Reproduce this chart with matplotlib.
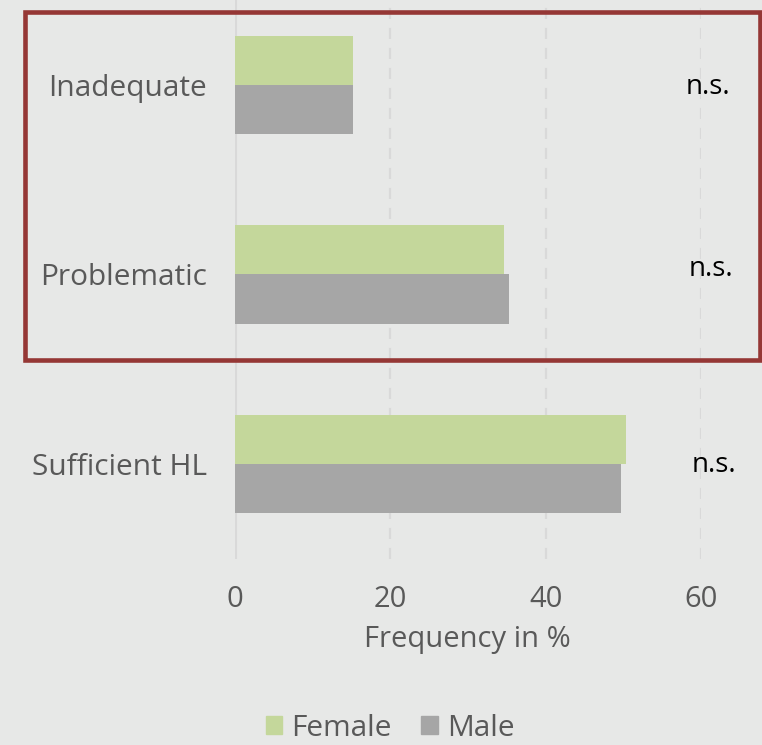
import matplotlib.pyplot as plt
import numpy as np
from matplotlib.patches import Rectangle, Patch

# Data
categories = ["Inadequate", "Problematic", "Sufficient HL"]
female = [15.2, 34.6, 50.4]
male = [15.2, 35.3, 49.7]
significance = ["n.s.", "n.s.", "n.s."]
x_ticks = [0, 20, 40, 60]

bg = "#e7e8e7"
text_col = "#595959"
green = "#c4d79b"
grey = "#a6a6a6"

plt.rcParams["font.family"] = ["Open Sans", "DejaVu Sans"]

fig = plt.figure(figsize=(7.62, 7.45), dpi=100, facecolor=bg)
ax = fig.add_axes([0.3079, 0.2497, 0.6121, 0.7637], facecolor=bg)

y = np.arange(len(categories))
h = 0.26
ax.barh(y - h / 2, female, height=h, color=green, label="Female", zorder=3)
ax.barh(y + h / 2, male, height=h, color=grey, label="Male", zorder=3)

ax.set_ylim(-0.5, len(categories) - 0.5)
ax.invert_yaxis()
ax.set_xlim(0, 60)

ax.set_yticks(y)
ax.set_yticklabels(categories, fontsize=21.5, color=text_col)
ax.set_xticks(x_ticks)
ax.set_xticklabels([str(t) for t in x_ticks], fontsize=21, color=text_col)
ax.tick_params(axis="both", length=0)
ax.tick_params(axis="y", pad=20)
ax.tick_params(axis="x", pad=19)

for s in ax.spines.values():
    s.set_visible(False)
ax.axvline(0, color="#d9d9d9", lw=2.2, zorder=2)
for t in x_ticks[1:]:
    ax.axvline(t, color="#d9d9d9", lw=1.6, ls=(0, (5, 4)), zorder=1)

ax.set_xlabel("Frequency in %", fontsize=21, color=text_col, labelpad=8)

# significance notes
ns_x = [60.9, 61.3, 61.6]
ns_y = [0.049, 1.007, 2.04]
for xi, yi, s in zip(ns_x, ns_y, significance):
    ax.text(xi, yi, s, fontsize=20, color="black", ha="center", va="baseline",
            clip_on=False)

# red highlight box
fig.patches.append(Rectangle((25 / 762, 1 - 359.5 / 745), 735 / 762, 348 / 745,
                             transform=fig.transFigure, fill=False,
                             edgecolor="#953735", lw=3.3))

handles = [Patch(color=green, label="Female"), Patch(color=grey, label="Male")]
fig.legend(handles=handles, loc="center", bbox_to_anchor=(390 / 762, 1 - 728 / 745),
           ncol=2, frameon=False, fontsize=21.5, handlelength=0.55, handleheight=0.55,
           handletextpad=0.3, columnspacing=1.0, labelcolor=text_col)

fig.savefig("out.png", dpi=100, facecolor=bg)
